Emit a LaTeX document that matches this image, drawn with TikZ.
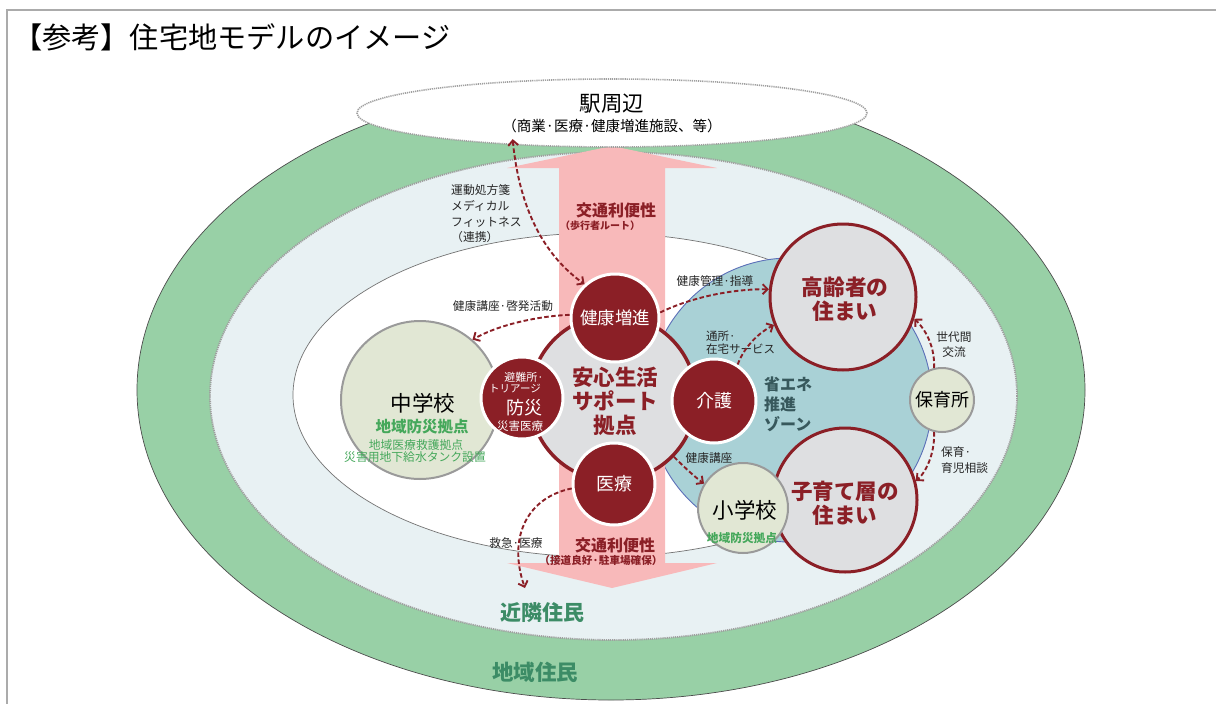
\documentclass[tikz,border=0pt]{standalone}
\usepackage{fontspec}
\setmainfont{Noto Sans CJK JP}
\usetikzlibrary{arrows.meta,shapes.geometric}
\definecolor{dred}{HTML}{8B1F26}
\definecolor{ring}{HTML}{98D0A6}
\definecolor{pale}{HTML}{E8F1F3}
\definecolor{zonefill}{HTML}{A9D1D6}
\definecolor{zoneline}{HTML}{5B6FB8}
\definecolor{pinkA}{HTML}{F8B9BA}
\definecolor{cgray}{HTML}{DEDFE1}
\definecolor{school}{HTML}{E1E7D4}
\definecolor{cborder}{HTML}{9A9A9A}
\definecolor{gtext}{HTML}{45A85B}
\definecolor{ntext}{HTML}{3C8C66}
\definecolor{zonetext}{HTML}{37585C}
\definecolor{framec}{HTML}{ABABAB}
\newcommand{\fsz}[2]{\fontsize{#1}{#2}\selectfont}
\begin{document}
\begin{tikzpicture}[x=1pt,y=-1pt,
  conn/.style={draw=dred, line width=1.9pt, dash pattern=on 4.5pt off 2.5pt, -{Straight Barb[length=5pt,width=10pt]}},
  redcirc/.style={circle, fill=dred, draw=white, line width=3pt, text=white, inner sep=0pt},
  homecirc/.style={circle, fill=cgray, draw=dred, line width=3pt, inner sep=0pt},
  schoolcirc/.style={circle, fill=school, draw=cborder, line width=2pt, inner sep=0pt},
  lbl/.style={text=black!85, inner sep=0pt, font=\fsz{11.7}{15}},
  pinklbl/.style={text=dred, inner sep=0pt},
  txt/.style={inner sep=0pt}
]
\useasboundingbox (0,0) rectangle (1216,704);
\draw[draw=framec, line width=2pt] (7,704) -- (7,10) -- (1216,10);
\node[anchor=west, txt, font=\fsz{29.2}{31}] (title) at (13,37) {【参考】住宅地モデルのイメージ};

% regions
\draw[fill=ring, draw=black!70, line width=0.7pt] (611,390) ellipse [x radius=474, y radius=310];
\draw[fill=pale, draw=gray!75, line width=1.8pt, dash pattern=on 1.2pt off 0.9pt] (613.5,396) ellipse [x radius=403.5, y radius=244];
\draw[fill=white, draw=black!55, line width=0.7pt] (600,395) ellipse [x radius=307, y radius=162];
\draw[fill=zonefill, draw=zoneline, line width=0.9pt] (790,400) circle [radius=142];

% pink double arrow
\fill[pinkA] (612,146) -- (717,168) -- (665,168) -- (665,563) -- (717,563) -- (612,588)
  -- (507,563) -- (559,563) -- (559,168) -- (507,168) -- cycle;

% station
\node[ellipse, fill=white, draw=gray!75, line width=1.6pt, dash pattern=on 1.2pt off 0.9pt,
  minimum width=510pt, minimum height=68pt, inner sep=0pt] (eki) at (612,113) {};
\node[txt, font=\fsz{21.5}{24}] (ekit) at (612,104) {駅周辺};
\node[txt, font=\fsz{14.5}{16}] (ekis) at (612,126) {（商業·医療·健康増進施設、等）};

% junior high
\node[schoolcirc, minimum size=158pt] (chu) at (420,400) {};
\node[txt, font=\fsz{21.5}{24}] (chut) at (423,403) {中学校};
\node[txt, text=gtext, font=\bfseries\fsz{15.5}{17}] (chu1) at (422,427) {地域防災拠点};
\node[txt, text=gtext, font=\fsz{11.8}{13}] (chu2) at (416,445) {地域医療救護拠点};
\node[txt, text=gtext, font=\fsz{11.8}{13}] (chu3) at (415,457) {災害用地下給水タンク設置};

% centre
\node[circle, fill=cgray, draw=dred, line width=3.5pt, minimum size=166pt, inner sep=0pt] (center) at (613,398) {};
\node[txt, text=dred, align=center, font=\bfseries\fsz{21.5}{24}] (centert) at (615,401) {安心生活\\サポート\\拠点};
\node[redcirc, minimum size=88pt, font=\fsz{17.5}{20}] (kenko) at (615,318) {健康増進};
\node[redcirc, minimum size=82pt] (bosai) at (522,398) {};
\node[txt, text=white, font=\fsz{11}{12}] (bosai1) at (524,377) {避難所·};
\node[txt, text=white, font=\fsz{10.5}{12}] (bosai2) at (515,389) {トリアージ};
\node[txt, text=white, font=\fsz{18}{20}] (bosai3) at (524,408) {防災};
\node[txt, text=white, font=\fsz{11.5}{12}] (bosai4) at (520,426) {災害医療};
\node[redcirc, minimum size=84pt, font=\fsz{18}{20}] (kaigo) at (714,401) {介護};
\node[redcirc, minimum size=82pt, font=\fsz{18}{20}] (iryo) at (614,484) {医療};

% homes & schools on the right
\node[homecirc, minimum size=146pt] (koreisha) at (843,297) {};
\node[txt, text=dred, align=center, font=\bfseries\fsz{21.7}{24}] (koreishat) at (845,299) {高齢者の\\住まい};
\node[homecirc, minimum size=144pt] (kosodate) at (845,500) {};
\node[txt, text=dred, align=center, font=\bfseries\fsz{21.5}{24}] (kosodatet) at (845,503) {子育て層の\\住まい};
\node[schoolcirc, minimum size=90pt] (sho) at (743,508) {};
\node[txt, font=\fsz{21.5}{24}] (shot) at (745,510) {小学校};
\node[txt, text=gtext, font=\bfseries\fsz{11.7}{13}] (sho1) at (742,538) {地域防災拠点};
\node[schoolcirc, minimum size=64pt, font=\fsz{18}{20}] (hoiku) at (942,400) {保育所};

\node[txt, anchor=west, align=left, text=zonetext, font=\bfseries\fsz{16}{20}] (zone) at (764,404) {省エネ\\推進\\ゾーン};

% pink arrow labels
\node[pinklbl, font=\bfseries\fsz{16}{18}] (kotsu1) at (616,210) {交通利便性};
\node[pinklbl, font=\bfseries\fsz{10}{12}] (kotsu1s) at (600,226) {（歩行者ルート）};
\node[pinklbl, font=\bfseries\fsz{16}{18}] (kotsu2) at (615,545) {交通利便性};
\node[pinklbl, font=\bfseries\fsz{10.6}{12}] (kotsu2s) at (601,560) {（接道良好·駐車場確保）};

% small labels
\node[lbl, anchor=west, align=left, font=\fsz{11.8}{15.7}] (undo) at (451,214) {運動処方箋\\メディカル\\フィットネス\\（連携）};
\node[lbl] (l2) at (503,306) {健康講座·啓発活動};
\node[lbl] (l3) at (715,281) {健康管理·指導};
\node[lbl, anchor=west, align=left, font=\fsz{11.5}{13.2}] (l4) at (706,342.5) {通所·\\在宅サービス};
\node[lbl] (l5) at (709,458) {健康講座};
\node[lbl] (l6) at (516,543) {救急·医療};
\node[lbl, align=center] (l7) at (954,344.5) {世代間\\交流};
\node[lbl, anchor=west, align=left, font=\fsz{11.7}{16}] (l8) at (941,460) {保育·\\育児相談};

% area names
\node[txt, text=ntext, font=\bfseries\fsz{21}{24}] (kinrin) at (542,613) {近隣住民};
\node[txt, text=ntext, font=\bfseries\fsz{21.5}{24}] (chiiki) at (535,672) {地域住民};
\coordinate (kinrinIn) at (525,588);

% connectors
\draw[conn, {Straight Barb[length=5pt,width=10pt]}-{Straight Barb[length=5pt,width=10pt]}, shorten <=-6pt]
  (eki.198) .. controls (520,215) and (548,258) .. (kenko.132);
\draw[conn] (kenko.176) .. controls (540,316) and (500,324) .. (chu.49);
\draw[conn] (kenko.7) .. controls (690,298) and (730,289) .. (koreisha.174);
\draw[conn] (kaigo.57) .. controls (743,350) and (755,335) .. (koreisha.202);
\draw[conn] (center.-44) .. controls (685,468) and (695,477) .. (sho.148);
\draw[conn] (iryo.186) .. controls (525,498) and (508,540) .. (kinrinIn);
\draw[conn] (hoiku.104) .. controls (935,350) and (928,332) .. (koreisha.-17);
\draw[conn] (hoiku.-104) .. controls (935,450) and (928,470) .. (kosodate.15);
\end{tikzpicture}
\end{document}
